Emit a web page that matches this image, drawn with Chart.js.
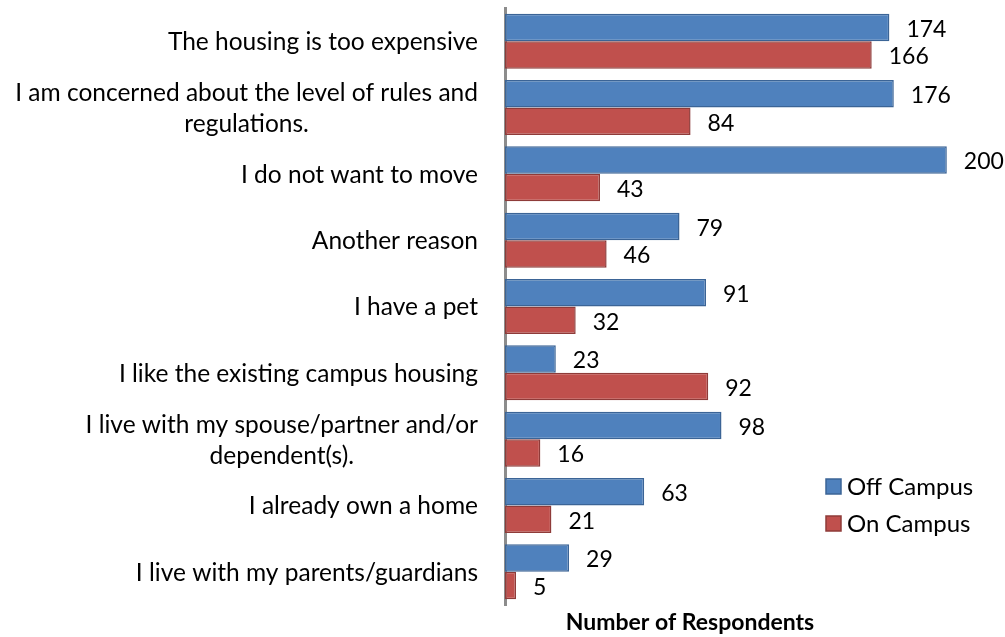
<!DOCTYPE html>
<html>
<head>
<meta charset="utf-8">
<script src="https://cdn.jsdelivr.net/npm/chart.js@4"></script>
<style>
    body { margin: 0; background: #fff; }
    #wrap { width: 1005px; height: 637px; }
</style>
</head>
<body>
<div id="wrap"><canvas id="reasonsChart" width="1005" height="637"></canvas></div>
<script>
var reasons = [
    "The housing is too expensive",
    ["I am concerned about the level of rules and", "regulations."],
    "I do not want to move",
    "Another reason",
    "I have a pet",
    "I like the existing campus housing",
    ["I live with my spouse/partner and/or", "dependent(s)."],
    "I already own a home",
    "I live with my parents/guardians"
];
var offCampus = [174, 176, 200, 79, 91, 23, 98, 63, 29];
var onCampus = [166, 84, 43, 46, 32, 92, 16, 21, 5];
var seriesNames = ["Off Campus", "On Campus"];
var axisTitle = "Number of Respondents";

var fontFamily = "Lato, 'Open Sans', sans-serif";
var fills = ["#4f81bd", "#c0504d"];
var edges = ["#3b6496", "#8e3b39"];

// category labels: right aligned, wrapped lines centred under the longest one
var categoryLabelsPlugin = {
    id: "categoryLabels",
    afterDraw: function (chart) {
        var ctx = chart.ctx;
        var yScale = chart.scales.y;
        var rightEdge = 478;
        var lineGap = 31;
        ctx.save();
        ctx.fillStyle = "#000";
        ctx.font = "24.5px " + fontFamily;
        ctx.textBaseline = "middle";
        ctx.textAlign = "center";
        chart.data.labels.forEach(function (label, i) {
            var lines = Array.isArray(label) ? label : [label];
            var widest = 0;
            lines.forEach(function (l) {
                widest = Math.max(widest, ctx.measureText(l).width);
            });
            var cx = rightEdge - widest / 2;
            var yc = yScale.getPixelForTick(i) + 1;
            var y0 = yc - (lines.length - 1) * lineGap / 2;
            lines.forEach(function (l, k) {
                ctx.fillText(l, cx, y0 + k * lineGap);
            });
        });
        ctx.restore();
    }
};

// values next to each bar, legend at the lower right, axis title below
var extrasPlugin = {
    id: "extras",
    afterDatasetsDraw: function (chart) {
        var ctx = chart.ctx;
        ctx.save();
        ctx.fillStyle = "#000";
        ctx.font = "23px " + fontFamily;
        ctx.textAlign = "left";
        ctx.textBaseline = "middle";
        chart.data.datasets.forEach(function (ds, di) {
            var meta = chart.getDatasetMeta(di);
            meta.data.forEach(function (bar, i) {
                ctx.fillText(String(ds.data[i]), bar.x + 17, bar.y + 2);
            });
        });

        // legend
        ctx.font = "24px " + fontFamily;
        seriesNames.forEach(function (name, i) {
            var y = 486 + i * 37;
            ctx.fillStyle = fills[i];
            ctx.fillRect(826, y - 7, 15, 15);
            ctx.strokeStyle = edges[i];
            ctx.lineWidth = 1.5;
            ctx.strokeRect(826, y - 7, 15, 15);
            ctx.fillStyle = "#000";
            ctx.fillText(name, 847, y + 1);
        });

        ctx.font = "bold 23px " + fontFamily;
        ctx.textAlign = "center";
        ctx.fillText(axisTitle, 690, 623);
        ctx.restore();
    }
};

var ctx = document.getElementById("reasonsChart").getContext("2d");
var reasonsChart = new Chart(ctx, {
    type: "bar",
    data: {
        labels: reasons,
        datasets: [
            {
                label: seriesNames[0],
                data: offCampus,
                backgroundColor: fills[0],
                borderColor: edges[0],
                borderWidth: 1.5,
                borderSkipped: false,
            },
            {
                label: seriesNames[1],
                data: onCampus,
                backgroundColor: fills[1],
                borderColor: edges[1],
                borderWidth: 1.5,
                borderSkipped: false,
            },
        ],
    },
    options: {
        indexAxis: "y",
        responsive: false,
        animation: false,
        layout: {
            padding: { top: 8, bottom: 32, right: 14, left: 0 },
        },
        plugins: {
            legend: { display: false },
            tooltip: { enabled: false },
        },
        datasets: {
            bar: {
                categoryPercentage: 0.83,
                barPercentage: 1,
            },
        },
        scales: {
            x: {
                display: false,
                min: 0,
                max: 220,
            },
            y: {
                afterFit: function (scale) {
                    scale.width = 505;
                    scale.paddingTop = 0;
                    scale.paddingBottom = 0;
                },
                grid: { display: false, drawTicks: false },
                border: { display: true, color: "#8c8c8c", width: 3 },
                ticks: { display: false },
            },
        },
    },
    plugins: [categoryLabelsPlugin, extrasPlugin],
});
</script>
</body>
</html>
